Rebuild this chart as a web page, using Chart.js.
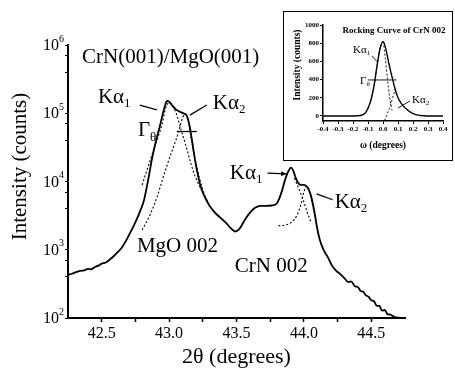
<!DOCTYPE html>
<html>
<head>
<meta charset="utf-8">
<script src="https://cdn.jsdelivr.net/npm/chart.js@4"></script>
<style>
  html, body { margin: 0; padding: 0; background: #fff; }
  #wrap { position: relative; width: 455px; height: 371px; overflow: hidden; }
  #mainChart { position: absolute; left: 0; top: 0; }
  #inset { position: absolute; left: 283px; top: 11px; width: 168px; height: 148px; border: 1px solid #000; background: #fff; }
  #insetChart { display: block; }
</style>
</head>
<body>
<div id="wrap">
  <canvas id="mainChart" width="455" height="371"></canvas>
  <div id="inset"><canvas id="insetChart" width="168" height="148"></canvas></div>
</div>
<script>
// ---- main scan: 2theta (deg) vs intensity (counts) ----
const scanX = [42.25, 42.28, 42.31, 42.34, 42.37, 42.40, 42.42, 42.45, 42.48, 42.50, 42.53, 42.56, 42.59, 42.62, 42.65,
  42.68, 42.71, 42.74, 42.77, 42.79, 42.81, 42.83, 42.85, 42.87, 42.89, 42.91, 42.93, 42.95, 42.97, 42.985,
  43.00, 43.02, 43.05, 43.08, 43.11, 43.13, 43.15, 43.17, 43.19, 43.21, 43.23, 43.26, 43.30, 43.34, 43.38,
  43.42, 43.46, 43.49, 43.52, 43.56, 43.60, 43.64, 43.68, 43.72, 43.76, 43.80, 43.82, 43.84, 43.86, 43.88,
  43.905, 43.92, 43.94, 43.96, 43.98, 44.00, 44.02, 44.04, 44.06, 44.08, 44.10, 44.12, 44.15, 44.18, 44.21,
  44.24, 44.27, 44.30, 44.33, 44.35, 44.38, 44.40, 44.42, 44.44, 44.46, 44.48, 44.50, 44.52, 44.54, 44.56,
  44.58, 44.60, 44.62, 44.64, 44.67, 44.70, 44.73];
const scanY = [430, 445, 470, 490, 500, 525, 515, 560, 590, 625, 650, 720, 810, 930, 1080,
  1350, 1750, 2300, 3100, 3900, 5000, 7500, 12000, 20000, 31000, 45000, 63000, 92000, 130000, 152000,
  148000, 132000, 114000, 105000, 99000, 93000, 68000, 40000, 22000, 13500, 9000, 6200, 4400, 3500, 2950,
  2500, 2050, 1850, 2000, 2700, 3500, 4150, 4400, 4400, 4450, 4800, 5800, 7600, 10500, 13500,
  16000, 14500, 11200, 9400, 8900, 8900, 8500, 7300, 5400, 3400, 2000, 1350, 960, 760, 580,
  490, 440, 385, 335, 345, 290, 285, 250, 242, 215, 205, 182, 176, 152, 150,
  128, 131, 114, 112, 104, 101, 100];

// fitted components (dotted)
const mgoK1X = [42.80, 42.83, 42.86, 42.89, 42.92, 42.95, 42.975, 43.00, 43.03, 43.06, 43.09, 43.12, 43.15, 43.18, 43.21, 43.25, 43.29];
const mgoK1Y = [8900, 13500, 20500, 31000, 46000, 72000, 120000, 142000, 128000, 90000, 56000, 36000, 22000, 14000, 10000, 6800, 4800];
const mgoK2X = [42.80, 42.86, 42.91, 42.95, 42.99, 43.03, 43.07, 43.10, 43.12, 43.14, 43.17, 43.21, 43.25, 43.30];
const mgoK2Y = [1950, 3300, 5900, 10500, 18500, 31000, 53000, 86000, 98000, 80000, 36000, 15000, 7600, 4300];
const crnK1X = [43.93, 43.96, 43.99, 44.02, 44.05];
const crnK1Y = [11200, 8000, 5700, 3800, 2600];
const crnK2X = [43.81, 43.86, 43.91, 43.95, 43.98, 44.00, 44.02, 44.04, 44.06, 44.09];
const crnK2Y = [2250, 2300, 2550, 3250, 4800, 7000, 8500, 7500, 4900, 2800];

// axis ticks
const xTickValues = [42.5, 43.0, 43.5, 44.0, 44.5];
const xTickLabels = ['42.5', '43.0', '43.5', '44.0', '44.5'];
const xMinorTicks = [42.75, 43.25, 43.75, 44.25];
const yMajor = [1e2, 1e3, 1e4, 1e5, 1e6];
const yExp = ['2', '3', '4', '5', '6'];

// ---- inset: rocking curve of CrN 002 ----
const rockX = [-0.4, -0.3, -0.2, -0.15, -0.12, -0.1, -0.08, -0.06, -0.04, -0.02, 0, 0.02, 0.04, 0.06, 0.08, 0.1, 0.125, 0.15, 0.2, 0.25, 0.3, 0.4];
const rockY = [0, 0, 0, 5, 30, 85, 180, 330, 550, 740, 820, 730, 570, 430, 300, 200, 130, 85, 25, 5, 0, 0];
const rockK1X = [-0.1, -0.08, -0.06, -0.04, -0.02, 0, 0.015, 0.03, 0.045, 0.06];
const rockK1Y = [80, 175, 320, 540, 730, 810, 640, 400, 200, 60];
const rockK2X = [0.01, 0.03, 0.05, 0.07, 0.085];
const rockK2Y = [-50, 30, 120, 230, 300];
const insetXTicks = [-0.4, -0.3, -0.2, -0.1, 0, 0.1, 0.2, 0.3, 0.4];
const insetXLabels = ['-0.4', '-0.3', '-0.2', '-0.1', '0.0', '0.1', '0.2', '0.3', '0.4'];
const insetYTicks = [0, 200, 400, 600, 800, 1000];

const serif = '"Liberation Serif", "Times New Roman", serif';
Chart.defaults.font.family = serif;
Chart.defaults.color = '#000';

const pts = (xs, ys) => xs.map((x, i) => ({ x, y: ys[i] }));

function solid(xs, ys, w) {
    return { data: pts(xs, ys), borderColor: '#000', borderWidth: w, pointRadius: 0, cubicInterpolationMode: 'monotone' };
}
function dotted(xs, ys, w) {
    return { data: pts(xs, ys), borderColor: '#000', borderWidth: w, borderDash: [2, 2], pointRadius: 0, cubicInterpolationMode: 'monotone' };
}

// text with a subscript, e.g. K-alpha-1
function subText(ctx, text, sub, px, py, size, weight) {
    weight = weight || '';
    ctx.font = `${weight} ${size}px ${serif}`;
    ctx.textAlign = 'left';
    ctx.textBaseline = 'middle';
    ctx.fillText(text, px, py);
    if (sub) {
        const w = ctx.measureText(text).width;
        ctx.font = `${weight} ${Math.round(size * 0.62)}px ${serif}`;
        ctx.fillText(sub, px + w, py + size * 0.32);
    }
}

function leader(ctx, x1, y1, x2, y2, lw, arrow) {
    ctx.lineWidth = lw;
    ctx.beginPath();
    ctx.moveTo(x1, y1);
    ctx.lineTo(x2, y2);
    ctx.stroke();
    if (arrow) {
        const a = Math.atan2(y2 - y1, x2 - x1);
        ctx.beginPath();
        ctx.moveTo(x2, y2);
        ctx.lineTo(x2 - 6 * Math.cos(a - 0.4), y2 - 6 * Math.sin(a - 0.4));
        ctx.lineTo(x2 - 6 * Math.cos(a + 0.4), y2 - 6 * Math.sin(a + 0.4));
        ctx.closePath();
        ctx.fill();
    }
}

function rotatedTitle(ctx, text, px, py, font) {
    ctx.save();
    ctx.translate(px, py);
    ctx.rotate(-Math.PI / 2);
    ctx.font = font;
    ctx.textAlign = 'center';
    ctx.textBaseline = 'middle';
    ctx.fillText(text, 0, 0);
    ctx.restore();
}

// labels placed in data units
const mainNotes = [
    { text: 'CrN(001)/MgO(001)', x: 42.354, y: 6.6e5 },
    { text: 'Kα', sub: '1', x: 42.472, y: 1.73e5 },
    { text: 'Kα', sub: '2', x: 43.324, y: 1.41e5 },
    { text: 'Γ', sub: 'θ', x: 42.769, y: 5.5e4 },
    { text: 'MgO 002', x: 42.761, y: 1135 },
    { text: 'Kα', sub: '1', x: 43.45, y: 13300 },
    { text: 'Kα', sub: '2', x: 44.228, y: 5000 },
    { text: 'CrN 002', x: 43.487, y: 578 }
];
const mainLines = [
    { from: [42.783, 1.32e5], to: [42.909, 1.12e5] },
    { from: [43.28, 1.32e5], to: [43.154, 9.4e4] },
    { from: [43.057, 5.4e4], to: [43.206, 5.4e4] },
    { from: [43.73, 13300], to: [43.872, 12900], arrow: true },
    { from: [44.213, 5400], to: [44.094, 6600] }
];

const mainDecor = {
    id: 'mainDecor',
    afterDraw(chart) {
        const { ctx, chartArea, scales: { x, y } } = chart;
        ctx.save();
        ctx.fillStyle = '#000';
        ctx.strokeStyle = '#000';
        // 10^n tick labels
        yMajor.forEach((v, i) => {
            const py = y.getPixelForValue(v);
            ctx.textAlign = 'right';
            ctx.textBaseline = 'middle';
            ctx.font = `10px ${serif}`;
            const ew = ctx.measureText(yExp[i]).width;
            ctx.fillText(yExp[i], chartArea.left - 4, py - 6);
            ctx.font = `16px ${serif}`;
            ctx.fillText('10', chartArea.left - 4 - ew, py + 1);
        });
        rotatedTitle(ctx, 'Intensity (counts)', 20, (chartArea.top + chartArea.bottom) / 2 - 15, `21px ${serif}`);
        mainNotes.forEach(n => subText(ctx, n.text, n.sub, x.getPixelForValue(n.x), y.getPixelForValue(n.y), 21));
        mainLines.forEach(l => leader(ctx,
            x.getPixelForValue(l.from[0]), y.getPixelForValue(l.from[1]),
            x.getPixelForValue(l.to[0]), y.getPixelForValue(l.to[1]), 1.3, l.arrow));
        ctx.restore();
    }
};

new Chart(document.getElementById('mainChart'), {
    type: 'line',
    data: {
        datasets: [
            solid(scanX, scanY, 1.8),
            dotted(mgoK1X, mgoK1Y, 1.1),
            dotted(mgoK2X, mgoK2Y, 1.1),
            dotted(crnK1X, crnK1Y, 1.1),
            dotted(crnK2X, crnK2Y, 1.1)
        ]
    },
    options: {
        responsive: false,
        animation: false,
        layout: { padding: { left: 0, top: 45, right: 50, bottom: 0 } },
        plugins: { legend: { display: false }, tooltip: { enabled: false } },
        scales: {
            x: {
                type: 'linear', min: 42.25, max: 44.75,
                afterBuildTicks: s => { s.ticks = xTickValues.concat(xMinorTicks).sort((a, b) => a - b).map(v => ({ value: v })); },
                afterFit: s => { s.height = 53; },
                ticks: {
                    autoSkip: false, maxRotation: 0, padding: 2,
                    font: { size: 16 },
                    callback: v => { const i = xTickValues.indexOf(v); return i >= 0 ? xTickLabels[i] : ''; }
                },
                grid: { drawOnChartArea: false, tickLength: 4, tickColor: '#000', tickWidth: 1.5 },
                border: { color: '#000', width: 2 },
                title: { display: true, text: '2θ (degrees)', font: { size: 22 }, padding: { top: 0, bottom: 1 } }
            },
            y: {
                type: 'logarithmic', min: 100, max: 1e6,
                afterBuildTicks: s => {
                    const minor = yMajor.slice(0, -1).flatMap(d => [2, 3, 4, 5, 6, 7, 8, 9].map(m => m * d));
                    s.ticks = yMajor.concat(minor).sort((a, b) => a - b).map(v => ({ value: v }));
                },
                afterFit: s => { s.width = 68; },
                ticks: { callback: () => '' },
                grid: { drawOnChartArea: false, tickLength: 3, tickColor: '#000', tickWidth: 1.2 },
                border: { color: '#000', width: 2 }
            }
        }
    },
    plugins: [mainDecor]
});

// ---- inset ----
const insetNotes = [
    { text: 'Kα', sub: '1', x: -0.2, y: 725, size: 11 },
    { text: 'Γ', sub: 'θ', x: -0.153, y: 385, size: 11 },
    { text: 'Kα', sub: '2', x: 0.193, y: 176, size: 11 }
];
const insetLines = [
    { from: [-0.075, 660], to: [-0.035, 590] },
    { from: [-0.1, 396], to: [0.09, 396] },
    { from: [0.18, 165], to: [0.1, 88] }
];

const insetDecor = {
    id: 'insetDecor',
    afterDraw(chart) {
        const { ctx, chartArea, scales: { x, y } } = chart;
        ctx.save();
        ctx.fillStyle = '#000';
        ctx.strokeStyle = '#000';
        ctx.font = `bold 9px ${serif}`;
        ctx.textAlign = 'center';
        ctx.textBaseline = 'middle';
        ctx.fillText('Rocking Curve of CrN 002', x.getPixelForValue(0.073), y.getPixelForValue(934));
        rotatedTitle(ctx, 'Intensity (counts)', 14, (chartArea.top + chartArea.bottom) / 2 - 8, `bold 9.5px ${serif}`);
        insetNotes.forEach(n => subText(ctx, n.text, n.sub, x.getPixelForValue(n.x), y.getPixelForValue(n.y), n.size));
        insetLines.forEach(l => leader(ctx,
            x.getPixelForValue(l.from[0]), y.getPixelForValue(l.from[1]),
            x.getPixelForValue(l.to[0]), y.getPixelForValue(l.to[1]), 0.9));
        ctx.restore();
    }
};

new Chart(document.getElementById('insetChart'), {
    type: 'line',
    data: {
        datasets: [
            solid(rockX, rockY, 1.4),
            dotted(rockK1X, rockK1Y, 0.9),
            dotted(rockK2X, rockK2Y, 0.9)
        ]
    },
    options: {
        responsive: false,
        animation: false,
        layout: { padding: { left: 0, top: 13, right: 9, bottom: 0 } },
        plugins: { legend: { display: false }, tooltip: { enabled: false } },
        scales: {
            x: {
                type: 'linear', min: -0.4, max: 0.4,
                afterBuildTicks: s => { s.ticks = insetXTicks.map(v => ({ value: v })); },
                afterFit: s => { s.height = 39; },
                ticks: {
                    autoSkip: false, maxRotation: 0, padding: 1,
                    font: { size: 7, weight: 'bold' },
                    callback: v => { const i = insetXTicks.indexOf(v); return i >= 0 ? insetXLabels[i] : ''; }
                },
                grid: { drawOnChartArea: false, tickLength: 3, tickColor: '#000' },
                border: { color: '#000', width: 1.5 },
                title: { display: true, text: 'ω (degrees)', font: { size: 9.5, weight: 'bold' }, padding: { top: 0, bottom: 9 } }
            },
            y: {
                type: 'linear', min: -55, max: 1000,
                afterBuildTicks: s => { s.ticks = insetYTicks.map(v => ({ value: v })); },
                afterFit: s => { s.width = 39; },
                ticks: { padding: 1, font: { size: 7, weight: 'bold' }, callback: v => String(v) },
                grid: { drawOnChartArea: false, tickLength: 3, tickColor: '#000' },
                border: { color: '#000', width: 1.5 }
            }
        }
    },
    plugins: [insetDecor]
});
</script>
</body>
</html>
